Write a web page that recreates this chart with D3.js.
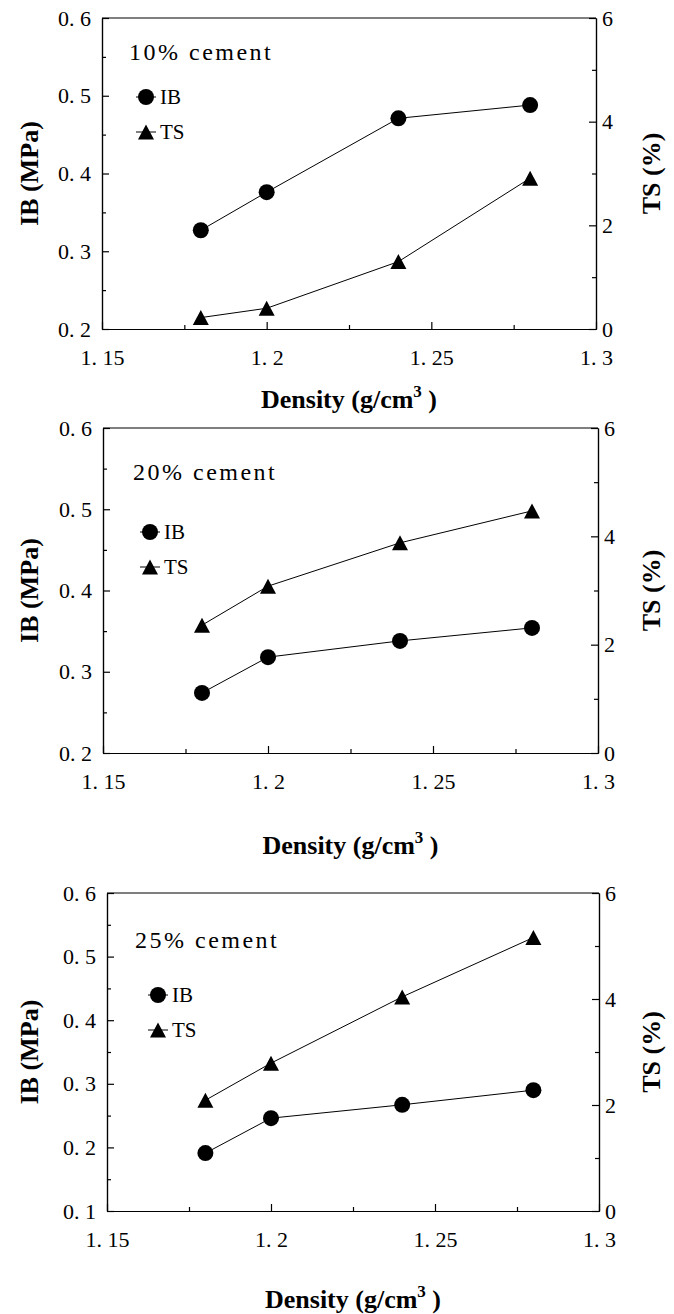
<!DOCTYPE html>
<html>
<head>
<meta charset="utf-8">
<script src="https://cdn.jsdelivr.net/npm/d3@7/dist/d3.min.js"></script>
<style>
	body { margin: 0; background: #fff; }
	svg { display: block; }
</style>
</head>
<body>
<svg id="chart" width="674" height="1314"></svg>
<script>
// values (density in g/cm3, IB in MPa, TS in %)
const density = [1.18, 1.2, 1.24, 1.28]
const ib10 = [0.327, 0.376, 0.471, 0.488]
const ts10 = [0.22, 0.40, 1.30, 2.91]
const ib20 = [0.274, 0.318, 0.338, 0.354]
const ts20 = [2.36, 3.08, 3.88, 4.47]
const ib25 = [0.191, 0.246, 0.267, 0.290]
const ts25 = [2.09, 2.79, 4.04, 5.16]

const cementLabels = ['10% cement', '20% cement', '25% cement']
const seriesNames = ['IB', 'TS']

const xTicks = [1.15, 1.2, 1.25, 1.3]
const xMinorTicks = [1.175, 1.225, 1.275]
const tsTicks = [0, 2, 4, 6]
const tsMinorTicks = [1, 3, 5]
const ibTicksHigh = [0.2, 0.3, 0.4, 0.5, 0.6]
const ibMinorHigh = [0.25, 0.35, 0.45, 0.55]
const ibTicksLow = [0.1, 0.2, 0.3, 0.4, 0.5, 0.6]
const ibMinorLow = [0.15, 0.25, 0.35, 0.45, 0.55]

const yTitle = 'IB (MPa)'
const y2Title = 'TS (%)'

// layout of each panel on the page
const panels = [
	{ top: 18, bottom: 329, left: 102, right: 596, ib: ib10, ts: ts10, ibDomain: [0.2, 0.6], ibTicks: ibTicksHigh, ibMinor: ibMinorHigh,
		note: cementLabels[0], noteX: 27, noteY: 42, legX: 44, legY: 79, titleY: 408 },
	{ top: 428, bottom: 753, left: 103, right: 598, ib: ib20, ts: ts20, ibDomain: [0.2, 0.6], ibTicks: ibTicksHigh, ibMinor: ibMinorHigh,
		note: cementLabels[1], noteX: 30, noteY: 52, legX: 47, legY: 104, titleY: 854 },
	{ top: 893, bottom: 1211, left: 107, right: 599, ib: ib25, ts: ts25, ibDomain: [0.1, 0.6], ibTicks: ibTicksLow, ibMinor: ibMinorLow,
		note: cementLabels[2], noteX: 28, noteY: 55, legX: 51, legY: 102, titleY: 1308 }
]

const serif = "'Liberation Serif', 'Times New Roman', Times, serif"
const majorTick = 7
const minorTick = 4
const markerRadius = 8

const fmt = (d) => String(d).replace('.', '. ')

const circlePath = d3.symbol().type(d3.symbolCircle).size(Math.PI * markerRadius * markerRadius)()
const trianglePath = 'M0,-7.5L8,7.5L-8,7.5Z'

const svg = d3.select('#chart')

const styleAxis = (g) => {
	g.attr('font-family', serif).attr('font-size', 22)
	g.selectAll('text').attr('fill', '#000')
	g.selectAll('line, path').attr('stroke', '#000').attr('stroke-width', 1.2)
}

const titleText = (sel) => sel
	.attr('font-family', serif)
	.attr('font-weight', 'bold')
	.attr('font-size', 26)
	.attr('fill', '#000')

panels.forEach((p) => {
	const x = d3.scaleLinear().domain([1.15, 1.3]).range([p.left, p.right])
	const yIB = d3.scaleLinear().domain(p.ibDomain).range([p.bottom, p.top])
	const yTS = d3.scaleLinear().domain([0, 6]).range([p.bottom, p.top])

	const g = svg.append('g')

	// frame top edge
	g.append('line')
		.attr('x1', p.left).attr('x2', p.right)
		.attr('y1', p.top).attr('y2', p.top)
		.attr('stroke', '#000').attr('stroke-width', 1.2)

	g.append('g')
		.attr('transform', `translate(0,${p.bottom})`)
		.call(d3.axisBottom(x).tickValues(xTicks).tickFormat(fmt).tickSizeInner(-majorTick).tickSizeOuter(0).tickPadding(20))
		.call(styleAxis)
	g.append('g')
		.attr('transform', `translate(0,${p.bottom})`)
		.call(d3.axisBottom(x).tickValues(xMinorTicks).tickFormat('').tickSizeInner(-minorTick).tickSizeOuter(0))
		.call(styleAxis)

	g.append('g')
		.attr('transform', `translate(${p.left},0)`)
		.call(d3.axisLeft(yIB).tickValues(p.ibTicks).tickFormat(fmt).tickSizeInner(-majorTick).tickSizeOuter(0).tickPadding(11))
		.call(styleAxis)
	g.append('g')
		.attr('transform', `translate(${p.left},0)`)
		.call(d3.axisLeft(yIB).tickValues(p.ibMinor).tickFormat('').tickSizeInner(-minorTick).tickSizeOuter(0))
		.call(styleAxis)

	g.append('g')
		.attr('transform', `translate(${p.right},0)`)
		.call(d3.axisRight(yTS).tickValues(tsTicks).tickFormat(fmt).tickSizeInner(-majorTick).tickSizeOuter(0).tickPadding(6))
		.call(styleAxis)
	g.append('g')
		.attr('transform', `translate(${p.right},0)`)
		.call(d3.axisRight(yTS).tickValues(tsMinorTicks).tickFormat('').tickSizeInner(-minorTick).tickSizeOuter(0))
		.call(styleAxis)

	const series = [
		{ name: seriesNames[0], values: p.ib, y: yIB, shape: circlePath },
		{ name: seriesNames[1], values: p.ts, y: yTS, shape: trianglePath }
	]

	series.forEach((s) => {
		const pts = density.map((d, i) => [x(d), s.y(s.values[i])])
		g.append('path')
			.attr('d', d3.line()(pts))
			.attr('fill', 'none')
			.attr('stroke', '#000')
			.attr('stroke-width', 1)
		g.selectAll(null)
			.data(pts)
			.enter().append('path')
				.attr('d', s.shape)
				.attr('transform', (d) => `translate(${d[0]},${d[1]})`)
				.attr('fill', '#000')
	})

	g.append('text')
		.attr('font-family', serif)
		.attr('font-size', 24)
		.attr('letter-spacing', 2.5)
		.attr('fill', '#000')
		.attr('x', p.left + p.noteX)
		.attr('y', p.top + p.noteY)
		.text(p.note)

	series.forEach((s, i) => {
		const lx = p.left + p.legX
		const ly = p.top + p.legY + i * 35
		g.append('line')
			.attr('x1', lx - 10).attr('x2', lx + 10)
			.attr('y1', ly).attr('y2', ly)
			.attr('stroke', '#000').attr('stroke-width', 1)
		g.append('path')
			.attr('d', s.shape)
			.attr('transform', `translate(${lx},${ly})`)
			.attr('fill', '#000')
		g.append('text')
			.attr('font-family', serif)
			.attr('font-size', 21)
			.attr('fill', '#000')
			.attr('x', lx + 14)
			.attr('y', ly)
			.attr('dy', '0.35em')
			.text(s.name)
	})

	const cy = (p.top + p.bottom) / 2
	g.append('text')
		.call(titleText)
		.attr('text-anchor', 'middle')
		.attr('transform', `translate(29,${cy}) rotate(-90)`)
		.attr('dy', '0.35em')
		.text(yTitle)
	g.append('text')
		.call(titleText)
		.attr('text-anchor', 'middle')
		.attr('transform', `translate(651,${cy}) rotate(-90)`)
		.attr('dy', '0.35em')
		.text(y2Title)

	const xt = g.append('text')
		.call(titleText)
		.attr('text-anchor', 'middle')
		.attr('x', (p.left + p.right) / 2)
		.attr('y', p.titleY)
	xt.append('tspan').text('Density (g/cm')
	xt.append('tspan').attr('dy', -11).attr('font-size', 17).text('3')
	xt.append('tspan').attr('dy', 11).text(' )')
})
</script>
</body>
</html>
